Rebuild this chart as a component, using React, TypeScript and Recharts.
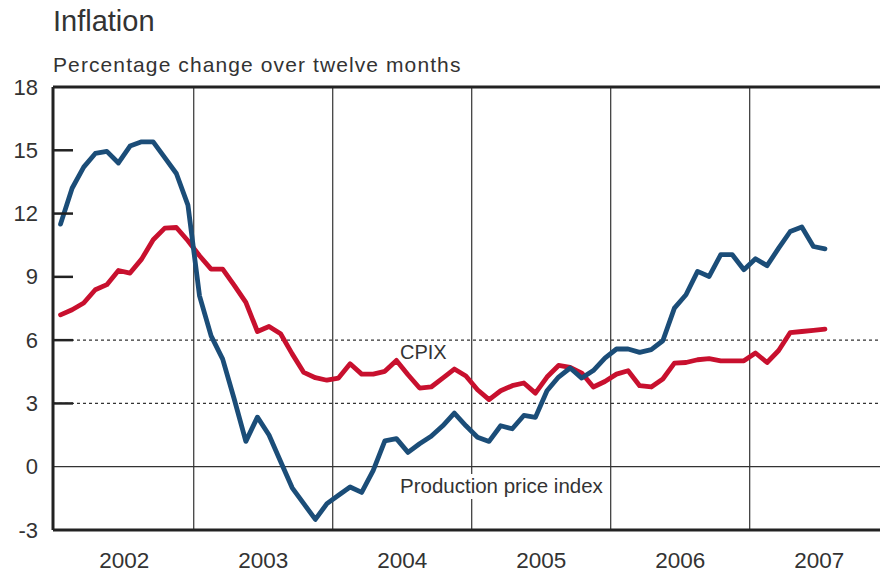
import { LineChart, Line, XAxis, YAxis, ReferenceLine } from "recharts";

// year labels, and the months (from Jan 2002) where each year starts / is centred
const years = ["2002", "2003", "2004", "2005", "2006", "2007"];
const yearStarts = [12, 24, 36, 48, 60];
const yearMids = [6, 18, 30, 42, 54, 66];
const yTicks = [-3, 0, 3, 6, 9, 12, 15, 18];

// Production price index, monthly Jan 2002 - Jul 2007
const ppi = [
  11.5, 13.2, 14.2, 14.85, 14.95, 14.4, 15.2, 15.4, 15.4, 14.65, 13.9, 12.4,
  8.1, 6.2, 5.1, 3.2, 1.2, 2.35, 1.5, 0.25, -1.0, -1.75, -2.5, -1.75,
  -1.35, -0.96, -1.22, -0.17, 1.23, 1.33, 0.68, 1.09, 1.44, 1.94, 2.54, 1.94,
  1.4, 1.2, 1.94, 1.8, 2.43, 2.34, 3.6, 4.25, 4.68, 4.2, 4.56, 5.15,
  5.58, 5.58, 5.42, 5.55, 5.97, 7.52, 8.15, 9.26, 9.02, 10.05, 10.05, 9.34,
  9.86, 9.53, 10.36, 11.15, 11.36, 10.44, 10.33,
];

// CPIX, monthly Jan 2002 - Jul 2007
const cpix = [
  7.2, 7.44, 7.76, 8.39, 8.63, 9.3, 9.18, 9.84, 10.76, 11.31, 11.34, 10.71,
  10.0, 9.37, 9.37, 8.6, 7.79, 6.41, 6.65, 6.3, 5.35, 4.47, 4.22, 4.1,
  4.2, 4.88, 4.39, 4.39, 4.52, 5.04, 4.36, 3.73, 3.78, 4.2, 4.63, 4.3,
  3.65, 3.18, 3.6, 3.84, 3.97, 3.49, 4.25, 4.8, 4.71, 4.44, 3.78, 4.04,
  4.39, 4.55, 3.84, 3.78, 4.16, 4.91, 4.94, 5.07, 5.12, 5.02, 5.02, 5.02,
  5.39, 4.94, 5.51, 6.36, 6.41, 6.46, 6.52,
];

const data = ppi.map((v, i) => ({ t: i + 0.5, ppi: v, cpix: cpix[i] }));

const FONT = "'Liberation Sans', Arial, sans-serif";
const TEXT = "#333";
const GRID = "#333";

const YTick = (props: any) => {
  const { x, y, payload } = props;
  const v = payload.value;
  return (
    <g>
      {v !== 0 && v !== -3 && v !== 18 && (
        <line x1={x} x2={x + 20} y1={y} y2={y} stroke="#222" strokeWidth={2.5} />
      )}
      <text x={x - 15} y={y} textAnchor="end" dominantBaseline="central" fontSize={22} fill={TEXT} fontFamily={FONT}>
        {v}
      </text>
    </g>
  );
};

const XTick = (props: any) => {
  const { x, y, payload } = props;
  const idx = yearMids.indexOf(payload.value);
  return (
    <text x={x} y={y + 38} textAnchor="middle" fontSize={22.5} fill={TEXT} fontFamily={FONT}>
      {years[idx]}
    </text>
  );
};

export default function App() {
  return (
    <div style={{ position: "absolute", left: 0, top: 0, width: 880, height: 574, overflow: "hidden", background: "#fff" }}>
      <LineChart width={880} height={574} data={data} margin={{ top: 87, right: 0, bottom: 0, left: 0 }}>
        <XAxis
          type="number"
          dataKey="t"
          domain={[-0.15, 71.25]}
          allowDataOverflow
          ticks={yearMids}
          tick={<XTick />}
          tickLine={false}
          tickSize={0}
          tickMargin={0}
          height={44}
          axisLine={{ stroke: "#222", strokeWidth: 3 }}
        />
        <YAxis
          type="number"
          domain={[-3, 18]}
          ticks={yTicks}
          tick={<YTick />}
          tickLine={false}
          tickSize={0}
          tickMargin={0}
          width={53}
          axisLine={{ stroke: "#222", strokeWidth: 3 }}
        />
        {yearStarts.map((m) => (
          <ReferenceLine key={m} x={m} stroke={GRID} strokeWidth={1.2} />
        ))}
        <ReferenceLine y={6} stroke={GRID} strokeWidth={1.3} strokeDasharray="3 3" />
        <ReferenceLine y={3} stroke={GRID} strokeWidth={1.3} strokeDasharray="3 3" />
        <ReferenceLine y={0} stroke={GRID} strokeWidth={1.3} />
        <ReferenceLine y={18} stroke="#222" strokeWidth={3} />
        <Line
          type="linear"
          dataKey="cpix"
          stroke="#c8102e"
          strokeWidth={4.8}
          dot={false}
          strokeLinejoin="round"
          strokeLinecap="round"
          isAnimationActive={false}
        />
        <Line
          type="linear"
          dataKey="ppi"
          stroke="#1b4d78"
          strokeWidth={4.8}
          dot={false}
          strokeLinejoin="round"
          strokeLinecap="round"
          isAnimationActive={false}
        />
      </LineChart>
      <svg width={880} height={574} style={{ position: "absolute", left: 0, top: 0, pointerEvents: "none" }}>
        <text x={53} y={31} fontSize={29} fill={TEXT} fontFamily={FONT}>
          Inflation
        </text>
        <text x={53} y={72} fontSize={21} letterSpacing={1.1} fill={TEXT} fontFamily={FONT}>
          Percentage change over twelve months
        </text>
        <text x={400} y={359} fontSize={20} fill={TEXT} fontFamily={FONT}>
          CPIX
        </text>
        <rect x={397} y={474} width={213} height={25} fill="#fff" />
        <text x={400} y={493} fontSize={20.5} fill={TEXT} fontFamily={FONT}>
          Production price index
        </text>
      </svg>
    </div>
  );
}
